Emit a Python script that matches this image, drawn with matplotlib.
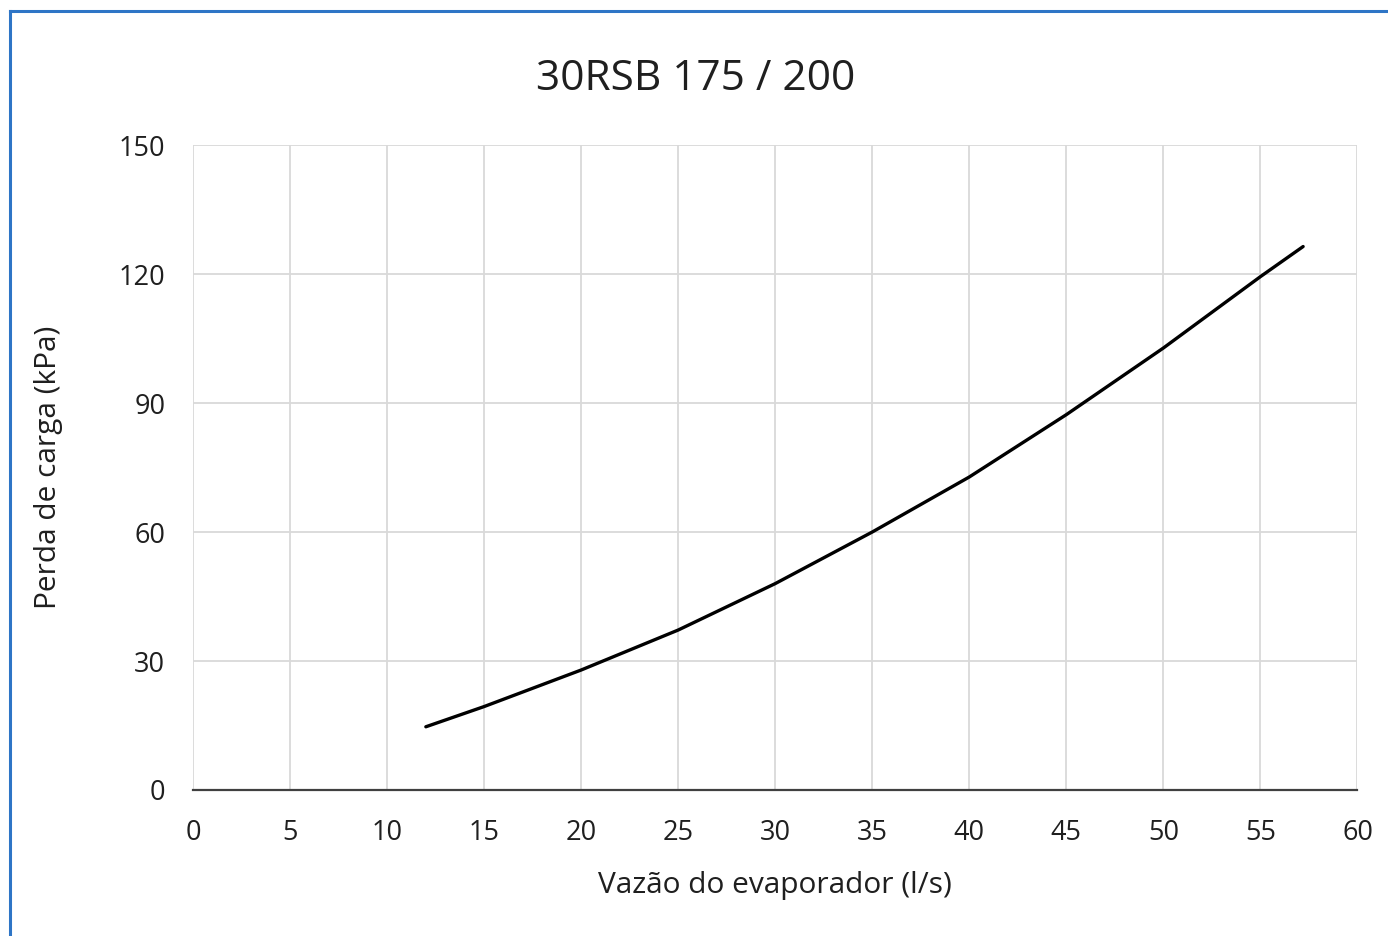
import matplotlib
matplotlib.use("Agg")
import matplotlib.pyplot as plt
from matplotlib.lines import Line2D

# datos
vazao = [12, 15, 20, 25, 30, 35, 40, 45, 50, 55, 57.2]
perda = [14.7, 19.4, 27.9, 37.2, 48.0, 60.0, 72.8, 87.3, 102.8, 119.4, 126.4]
xticks = list(range(0, 61, 5))
yticks = [0, 30, 60, 90, 120, 150]

plt.rcParams['font.family'] = ['Open Sans', 'DejaVu Sans']
texto = '#1f1f1f'

fig = plt.figure(figsize=(13.88, 9.36), dpi=100)
ax = fig.add_axes([0.139, 0.156, 0.839, 0.689])

ax.plot(vazao, perda, color='black', linewidth=2.4,
        solid_capstyle='round', solid_joinstyle='round')

ax.set_xlim(0, 60)
ax.set_ylim(0, 150)
ax.set_xticks(xticks)
ax.set_yticks(yticks)
ax.grid(True, color='#d9d9d9', linewidth=1.3)
ax.set_axisbelow(True)
for lado in ['top', 'right', 'left']:
    ax.spines[lado].set_visible(False)
ax.spines['bottom'].set_color('#404040')
ax.spines['bottom'].set_linewidth(1.6)
ax.tick_params(axis='both', length=0, labelsize=19.5, colors=texto)
ax.tick_params(axis='x', pad=21)
ax.tick_params(axis='y', pad=20)

ax.set_xlabel('Vazão do evaporador (l/s)', fontsize=21.5, color=texto, labelpad=17)
ax.set_ylabel('Perda de carga (kPa)', fontsize=21.5, color=texto, labelpad=40)
fig.text(0.501, 0.916, '30RSB 175 / 200', fontsize=30.5, color=texto,
         ha='center', va='center')

# borde azul (arriba e izquierda)
fig.add_artist(Line2D([0.0072, 1.0], [0.988, 0.988], color='#2e75c6', linewidth=2.2))
fig.add_artist(Line2D([0.0072, 0.0072], [0.0, 0.988], color='#2e75c6', linewidth=2.2))

fig.savefig('out.png', dpi=100, facecolor='white')
